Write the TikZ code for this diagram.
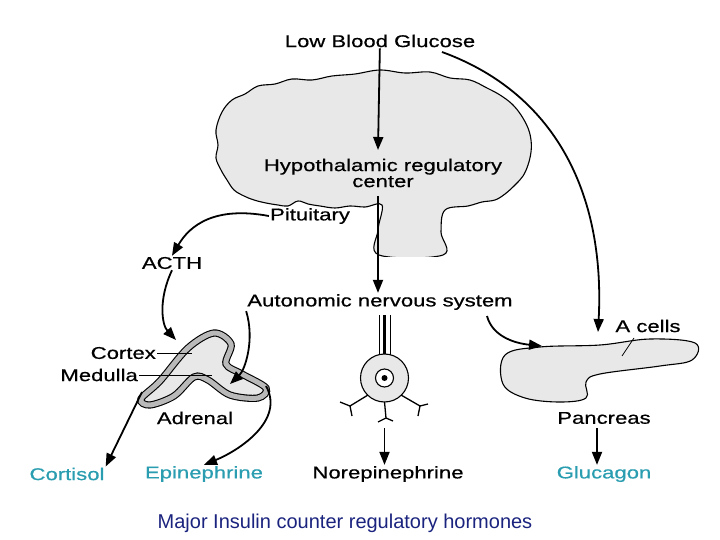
\documentclass[tikz,border=0pt]{standalone}
\usepackage{fontspec}
\setmainfont{Liberation Sans}
\newfontfamily\lblfont[FakeStretch=1.3, FakeBold=0.6]{Liberation Sans}
\usetikzlibrary{arrows.meta, positioning}
\definecolor{hormteal}{HTML}{2A9DB0}
\definecolor{titleblue}{HTML}{1A237E}
\tikzset{
  %text label style
  lbl/.style={
    font=\lblfont\fontsize{17}{18}\selectfont
    , inner sep=1pt
    , align=center
  },
  hormone/.style={lbl, text=hormteal},
  flow/.style={
    -{Triangle[length=13pt, width=10pt]}
    , line width=1.8pt
  },
  organ/.style={draw, line width=1.1pt, fill=gray!18},
}
\begin{document}
\begin{tikzpicture}[x=1pt, y=-1pt]
  \useasboundingbox (0,0) rectangle (720,540);
  % brain
  \draw[organ] plot[smooth cycle, tension=0.6] coordinates {
    (216,130) (222,112) (232,100) (245,94) (258,86) (275,84) (292,79) (312,80) (332,76)
    (355,74) (380,70) (405,73) (430,72) (450,78) (470,80) (487,88) (500,95) (512,104)
    (521,115) (528,128) (531,140) (531,152) (528,165) (523,176) (515,185) (505,194) (495,200)
    (482,202) (468,206) (445,210) (441,232) (443,255) (379,255) (378,230) (382,205)
    (365,207) (350,206) (335,208) (320,206) (308,204) (298,201) (288,206) (278,205) (266,203)
    (254,200) (244,196) (234,190) (227,180) (221,170) (216,158) (218,145)};
  \fill[white] (360,256.5) rectangle (460,270);
  % adrenal
  \draw[organ, double=gray!55, double distance=5pt] plot[smooth cycle, tension=0.55] coordinates {
    (141,399) (160,381) (188,348) (214,333) (231,344) (226,364) (242,374)
    (266,388) (258,398) (230,395) (208,380) (194,377) (174,396) (150,405)};
  % neuron
  \draw[line width=0.9pt] (379,315) -- (379,356) (390,315) -- (390,356);
  \draw[line width=3pt] (384.5,315) -- (384.5,356);
  \draw[organ] (384.5,378) circle (24pt);
  \draw[line width=1.1pt, fill=white] (384.5,378) circle (9pt);
  \fill (384.5,378) circle (3pt);
  \draw[line width=1.3pt] (368,395) -- (350,406) (350,406) -- (340,402) (350,406) -- (352,416)
    (401,395) -- (420,406) (420,406) -- (428,404) (420,406) -- (418,416)
    (384.5,402) -- (386,418) (386,418) -- (378,422) (386,418) -- (393,421);
  % pancreas
  \draw[organ] plot[smooth cycle, tension=0.6] coordinates {
    (505,355) (540,347) (600,345) (650,339) (695,343) (692,360) (660,366)
    (600,374) (586,382) (586,398) (560,402) (525,398) (503,384)};
  % labels
  \node[lbl] (glucose) at (380,41) {Low Blood Glucose};
  \node[lbl] (hypo) at (383,173) {Hypothalamic regulatory\\[-2pt]center};
  \node[lbl] (pit) at (310,216) {Pituitary};
  \node[lbl] (acth) at (172,263) {ACTH};
  \node[lbl] (ans) at (380,302) {Autonomic nervous system};
  \node[lbl] (acells) at (648,326) {A cells};
  \node[lbl, anchor=east] (cortex) at (157,353) {Cortex};
  \node[lbl, anchor=east] (medulla) at (139,375) {Medulla};
  \node[lbl] (adrenal) at (195,418) {Adrenal};
  \node[lbl] (pancreas) at (604,418) {Pancreas};
  \node[hormone] (cortisol) at (67,474) {Cortisol};
  \node[hormone] (epi) at (204,474) {Epinephrine};
  \node[lbl] (norepi) at (388,474) {Norepinephrine};
  \node[hormone] (glucagon) at (604,474) {Glucagon};
  \node[font=\fontsize{20}{22}\selectfont, text=titleblue] (title) at (345,523)
    {Major Insulin counter regulatory hormones};
  \coordinate (hypotop) at (378,150);
  \coordinate (stem) at (378,196);
  \coordinate (gluright) at (442,52);
  \coordinate (acellpt) at (598,332);
  \coordinate (adrtop) at (176,340);
  \coordinate (medpt) at (230,384);
  \coordinate (ansright) at (487,316);
  \coordinate (panpt) at (542,346);
  \coordinate (adrleft) at (142,392);
  \coordinate (medout) at (266,386);
  % arrows
  \draw[flow] (glucose) -- (hypotop);
  \draw[flow] (gluright) .. controls (560,95) and (605,200) .. (acellpt);
  \draw[flow] (pit.west) .. controls (215,206) and (190,225) .. (acth.north);
  \draw[flow] (acth.south) .. controls (158,300) and (162,325) .. (adrtop);
  \draw[flow] (stem) -- (ans.north -| stem);
  \draw[flow] (ans.south west) .. controls (255,340) and (245,370) .. (medpt);
  \draw[flow] (ansright) .. controls (492,335) and (512,343) .. (panpt);
  \draw[flow] (adrleft) -- (cortisol.north east);
  \draw[flow] (medout) .. controls (285,420) and (240,450) .. (epi.north);
  \draw[flow] (384.5,428) -- (norepi.north -| 384.5,0);
  \draw[flow] (597,428) -- (glucagon.north -| 597,0);
  % pointers
  \draw[line width=0.8pt] (cortex.east) -- (192,353);
  \draw[line width=0.8pt] (medulla.east) -- (212,375);
  \draw[line width=0.8pt] (634,338) -- (622,356);
\end{tikzpicture}
\end{document}
